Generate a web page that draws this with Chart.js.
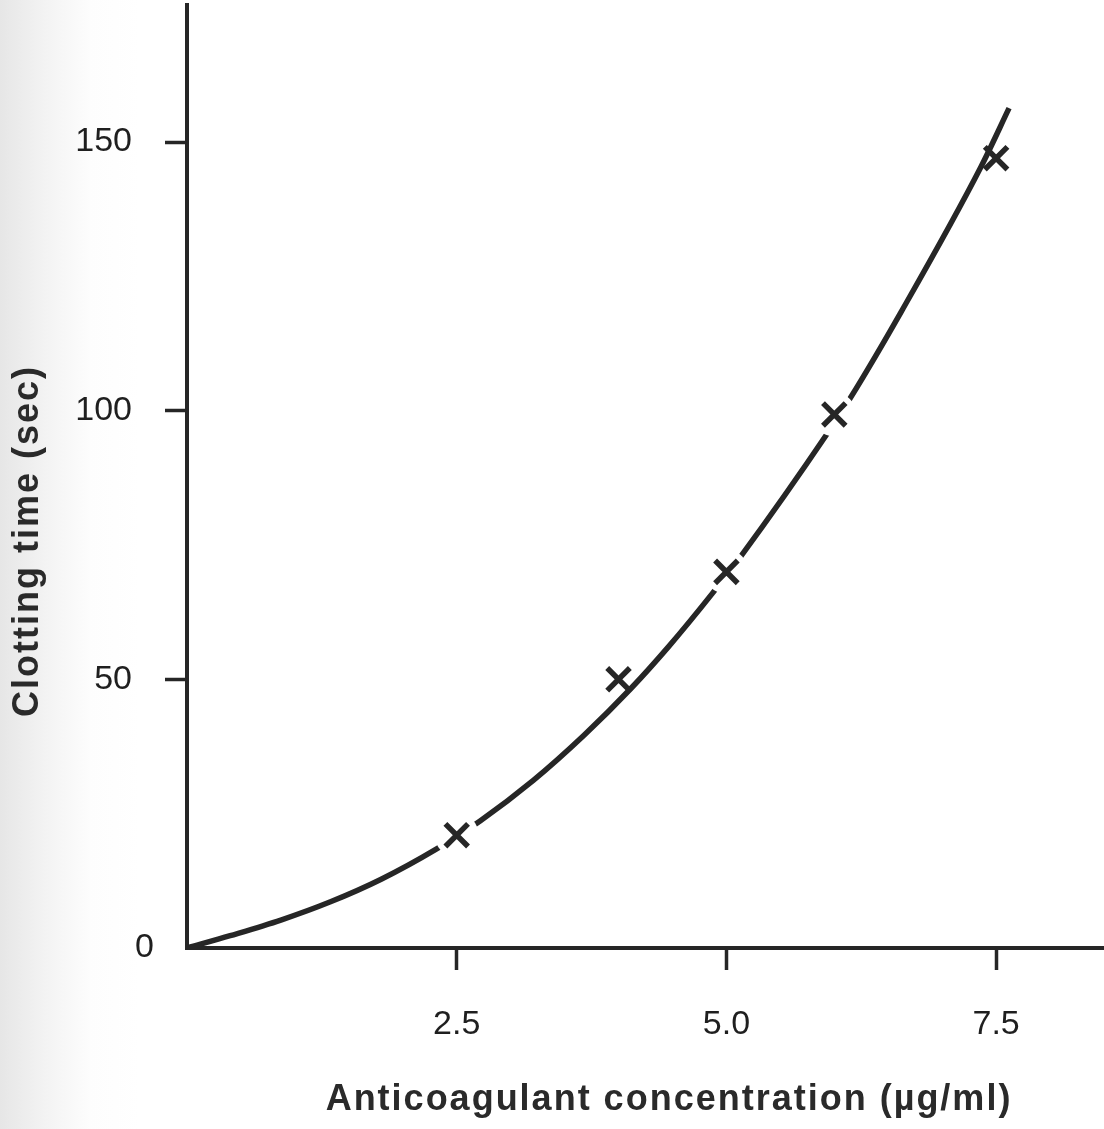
<!DOCTYPE html>
<html>
<head>
<meta charset="utf-8">
<script src="https://cdn.jsdelivr.net/npm/chart.js@4/dist/chart.umd.min.js"></script>
<style>
  html, body { margin: 0; padding: 0; }
  body {
    width: 1104px; height: 1129px; overflow: hidden;
    background: linear-gradient(to right, #e6e6e6 0px, #f3f3f3 45px, #fdfdfd 90px, #ffffff 140px);
  }
  #wrap { position: relative; width: 1104px; height: 1129px; }
</style>
</head>
<body>
<div id="wrap"><canvas id="clotChart"></canvas></div>
<script>
// measured points (crosses)
var concentration = [2.5, 4.0, 5.0, 6.0, 7.5];
var clottingTime = [21, 50, 70, 99.3, 147];

// fitted curve
var curveX = [0, 0.4, 0.87, 1.33, 1.8, 2.31, 2.72, 3.21, 3.68, 4.11, 4.46, 4.87, 5.13, 5.94, 6.15, 6.62, 7.36, 7.62];
var curveY = [0, 2.3, 5.2, 8.6, 12.8, 18.4, 23.7, 31.2, 39.6, 48.2, 56.0, 66.0, 72.8, 95.9, 102.4, 118.4, 145.4, 156.3];

var yTicks = [0, 50, 100, 150];
var xTicks = [2.5, 5.0, 7.5];

// the curve is broken where it passes through these crosses
var gapAt = [2.5, 5.0, 6.0];

var ink = '#262626';
var labelInk = '#1f1f1f';
var fontFam = '"Liberation Sans", Arial, sans-serif';

var curvePts = curveX.map(function(x, i) { return { x: x, y: curveY[i] }; });
var markPts = concentration.map(function(x, i) { return { x: x, y: clottingTime[i] }; });
var gapPts = markPts.filter(function(p) { return gapAt.indexOf(p.x) >= 0; });

// axis titles + the "0" label (sits closer to the axis, no tick mark there)
var axisTitles = {
  id: 'axisTitles',
  afterDraw: function(chart) {
    var ctx = chart.ctx;
    var yScale = chart.scales.y;
    ctx.save();
    ctx.fillStyle = labelInk;
    ctx.font = '34px ' + fontFam;
    ctx.textAlign = 'right';
    ctx.textBaseline = 'middle';
    ctx.fillText('0', chart.chartArea.left - 33, yScale.getPixelForValue(0));

    ctx.fillStyle = '#2a2a2a';
    ctx.font = 'bold 36px ' + fontFam;
    ctx.letterSpacing = '2px';
    ctx.textAlign = 'center';
    ctx.fillText('Anticoagulant concentration (\u00b5g/ml)', 669, 1100);
    ctx.translate(28, 541);
    ctx.rotate(-Math.PI / 2);
    ctx.fillText('Clotting time (sec)', 0, 0);
    ctx.restore();
  }
};

var ctx = document.getElementById('clotChart').getContext('2d');
var clotChart = new Chart(ctx, {
  type: 'scatter',
  data: {
    datasets: [{
      label: 'Measured',
      data: markPts,
      pointStyle: 'crossRot',
      pointRadius: 16,
      pointHoverRadius: 16,
      pointBorderWidth: 5.5,
      borderColor: ink,
      backgroundColor: ink,
      order: 0
    }, {
      label: 'gaps',
      data: gapPts,
      pointStyle: 'circle',
      pointRadius: 22,
      pointHoverRadius: 22,
      pointBorderWidth: 0,
      backgroundColor: '#ffffff',
      borderColor: '#ffffff',
      order: 1
    }, {
      label: 'Fit',
      data: curvePts,
      showLine: true,
      cubicInterpolationMode: 'monotone',
      borderColor: ink,
      borderWidth: 5.5,
      pointRadius: 0,
      order: 2
    }]
  },
  options: {
    responsive: true,
    maintainAspectRatio: false,
    animation: false,
    layout: { autoPadding: false, padding: { top: 5, right: 0, left: 0, bottom: 0 } },
    plugins: {
      legend: { display: false },
      tooltip: { enabled: false }
    },
    scales: {
      x: {
        type: 'linear',
        min: 0,
        max: 8.5,
        afterFit: function(scale) {
          scale.height = 181;
          scale.paddingLeft = 0;
          scale.paddingRight = 0;
        },
        afterBuildTicks: function(scale) {
          scale.ticks = [{ value: 0 }].concat(xTicks.map(function(v) { return { value: v }; }));
        },
        border: { color: ink, width: 4 },
        grid: {
          drawOnChartArea: false,
          drawTicks: true,
          tickLength: 22,
          tickWidth: 3.5,
          tickColor: function(c) { return c.tick && c.tick.value === 0 ? 'rgba(0,0,0,0)' : ink; }
        },
        ticks: {
          color: labelInk,
          padding: 34,
          maxRotation: 0,
          autoSkip: false,
          font: { family: fontFam, size: 34 },
          callback: function(v) { return v === 0 ? '' : v.toFixed(1); }
        }
      },
      y: {
        type: 'linear',
        min: 0,
        max: 175.5,
        afterFit: function(scale) {
          scale.width = 187;
          scale.paddingTop = 0;
          scale.paddingBottom = 0;
        },
        afterBuildTicks: function(scale) {
          scale.ticks = yTicks.map(function(v) { return { value: v }; });
        },
        border: { color: ink, width: 4 },
        grid: {
          drawOnChartArea: false,
          drawTicks: true,
          tickLength: 22,
          tickWidth: 3.5,
          tickColor: function(c) { return c.tick && c.tick.value === 0 ? 'rgba(0,0,0,0)' : ink; }
        },
        ticks: {
          color: labelInk,
          padding: 33,
          font: { family: fontFam, size: 34 },
          callback: function(v) { return v === 0 ? '' : String(v); }
        }
      }
    }
  },
  plugins: [axisTitles]
});
</script>
</body>
</html>
